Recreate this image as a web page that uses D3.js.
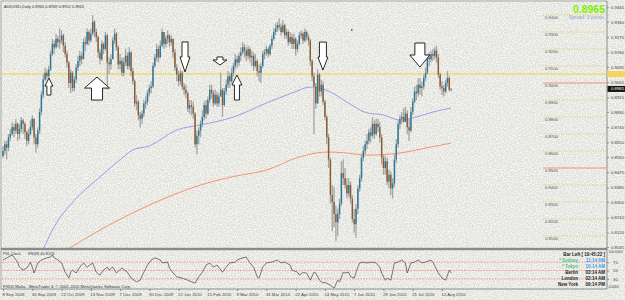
<!DOCTYPE html>
<html lang="en">
<head>
<meta charset="UTF-8"/>
<title>AUDUSD,Daily</title>
<script src="https://d3js.org/d3.v7.min.js"></script>
<style>
  body { margin: 0; background: #f3f3ef; }
  svg { display: block; font-family: "Liberation Sans", Arial, sans-serif; }
  .axis path { display: none; }
  .axis line { stroke: #777; stroke-width: 0.8; }
  .axis text { font-size: 4.3px; fill: #444; font-family: "Liberation Sans", Arial, sans-serif; }
</style>
</head>
<body></body>
<script>
// ---- data (prices in pips: 8965 = 0.8965) ----
const openPips = [8570,8600,8640,8620,8680,8700,8740,8720,8760,8700,8730,8780,8760,8710,8660,8700,8740,8790,8680,8640,
8720,8830,8930,9020,9060,9040,9080,9170,9230,9210,9260,9240,9250,9280,9220,9170,9120,9000,9060,8970,
9020,9090,9130,9160,9140,9240,9230,9300,9250,9290,9360,9300,9270,9180,9140,9230,9200,9280,9120,9110,
9140,9250,9290,9210,9110,9130,9060,9120,9160,9100,9180,9070,9010,8880,8890,8810,8790,8820,8880,8890,
8940,8970,8980,9100,9150,9200,9150,9220,9300,9230,9260,9280,9240,9260,9180,9090,9050,9010,9060,8980,
8960,8940,8850,8870,8860,8820,8640,8690,8720,8760,8800,8870,8820,8900,8960,8940,8880,8930,8880,8920,
8960,8870,8950,8990,9040,9010,9060,9100,9140,9120,9160,9180,9210,9190,9160,9200,9150,9160,9100,9130,
9070,9060,9100,9170,9180,9200,9170,9220,9260,9300,9320,9340,9330,9300,9340,9280,9300,9240,9270,9230,
9260,9200,9230,9280,9290,9250,9300,9270,9250,9130,9040,8980,8880,9050,8950,8990,8890,8800,8680,8550,
8340,8300,8230,8180,8230,8290,8470,8440,8400,8350,8400,8320,8200,8170,8260,8380,8440,8560,8600,8640,
8660,8710,8690,8760,8700,8760,8740,8680,8560,8500,8540,8420,8460,8380,8410,8550,8640,8760,8790,8800,
8770,8820,8740,8720,8830,8890,8950,8940,8990,8970,8980,9030,9060,9150,9140,9170,9160,9190,9150,9050,
8980,8970,8950,9000,9030,8960];
const highPips = [8630,8660,8660,8700,8730,8770,8760,8790,8770,8760,8800,8790,8770,8720,8730,8780,8810,8790,8700,8740,
8850,8950,9050,9090,9080,9100,9190,9260,9250,9290,9280,9320,9310,9290,9240,9190,9130,9080,9070,9040,
9110,9160,9190,9180,9260,9270,9320,9310,9320,9400,9370,9320,9280,9200,9250,9240,9300,9290,9150,9170,
9270,9320,9300,9220,9170,9150,9150,9200,9180,9210,9190,9090,9020,8930,8900,8830,8840,8900,8920,8960,
8990,9010,9120,9170,9230,9220,9250,9320,9300,9280,9310,9290,9280,9260,9200,9110,9070,9080,9070,9000,
8990,8950,8900,8900,8890,8830,8720,8740,8780,8840,8890,8900,8920,8990,8990,8960,8960,8950,8940,9060,
8970,8970,9020,9070,9060,9090,9120,9170,9160,9180,9210,9240,9230,9210,9220,9210,9190,9180,9170,9140,
9110,9120,9190,9200,9220,9210,9230,9280,9320,9350,9360,9380,9350,9370,9350,9320,9310,9300,9290,9290,
9270,9250,9300,9310,9300,9320,9310,9290,9260,9140,9060,9000,9080,9060,9020,9010,8900,8810,8700,8560,
8400,8390,8280,8260,8320,8540,8550,8500,8440,8440,8420,8340,8260,8290,8400,8460,8580,8630,8660,8700,
8730,8740,8800,8780,8790,8790,8770,8700,8580,8570,8560,8490,8480,8440,8580,8670,8780,8810,8830,8850,
8860,8840,8790,8860,8910,8980,8990,9030,9030,9010,9050,9090,9170,9180,9190,9200,9210,9220,9170,9060,
9010,8990,9020,9070,9040,8969];
const lowPips = [8560,8580,8550,8600,8660,8690,8680,8700,8660,8670,8710,8700,8670,8630,8640,8690,8720,8640,8590,8620,
8700,8810,8910,9010,9020,9030,9070,9160,9170,9200,9210,9200,9230,9180,9150,9090,8970,8940,8950,8950,
9000,9070,9100,9110,9140,9190,9220,9220,9240,9280,9270,9240,9150,9110,9130,9170,9190,8960,9050,9080,
9140,9230,9190,9080,9080,9040,9040,9100,9080,9080,9040,8990,8860,8840,8780,8740,8760,8800,8850,8870,
8920,8940,8970,9090,9130,9120,9150,9210,9200,9210,9230,9210,9220,9150,9070,9010,8980,8990,8960,8930,
8910,8830,8820,8810,8790,8620,8580,8640,8680,8740,8780,8790,8810,8880,8910,8860,8870,8860,8860,8920,
8800,8860,8930,8970,8970,9000,9040,9080,9090,9100,9130,9170,9150,9130,9140,9120,9100,9070,9090,9040,
9010,9000,9090,9140,9160,9150,9160,9200,9250,9280,9300,9310,9280,9290,9260,9260,9220,9230,9200,9200,
9160,9180,9220,9260,9230,9240,9250,9220,9100,9010,8700,8850,8880,8920,8920,8870,8780,8640,8500,8290,
8130,8150,8070,8100,8200,8280,8400,8380,8320,8330,8290,8180,8120,8090,8230,8360,8420,8540,8580,8610,
8640,8650,8680,8670,8690,8710,8650,8520,8460,8460,8400,8380,8340,8320,8390,8530,8620,8730,8760,8770,
8790,8700,8660,8710,8810,8880,8900,8920,8930,8920,8960,9010,9050,9100,9120,9130,9140,9120,9030,8960,
8930,8920,8940,8980,8950,8952];
const closePips = [8600,8640,8620,8680,8700,8740,8720,8760,8700,8730,8780,8760,8710,8660,8700,8740,8790,8680,8640,8720,
8830,8930,9020,9060,9040,9080,9170,9230,9210,9260,9240,9250,9280,9220,9170,9120,9000,9060,8970,9020,
9090,9130,9160,9140,9240,9230,9300,9250,9290,9360,9300,9270,9180,9140,9230,9200,9280,9120,9110,9140,
9250,9290,9210,9110,9130,9060,9120,9160,9100,9180,9070,9010,8880,8890,8810,8790,8820,8880,8890,8940,
8970,8980,9100,9150,9200,9150,9220,9300,9230,9260,9280,9240,9260,9180,9090,9050,9010,9060,8980,8960,
8940,8850,8870,8860,8820,8640,8690,8720,8760,8800,8870,8820,8900,8960,8940,8880,8930,8880,8920,8960,
8870,8950,8990,9040,9010,9060,9100,9140,9120,9160,9180,9210,9190,9160,9200,9150,9160,9100,9130,9070,
9060,9100,9170,9180,9200,9170,9220,9260,9300,9320,9340,9330,9300,9340,9280,9300,9240,9270,9230,9260,
9200,9230,9280,9290,9250,9300,9270,9250,9130,9040,8980,8880,9050,8950,8990,8890,8800,8680,8550,8340,
8300,8230,8180,8230,8290,8470,8440,8400,8350,8400,8320,8200,8170,8260,8380,8440,8560,8600,8640,8660,
8710,8690,8760,8700,8760,8740,8680,8560,8500,8540,8420,8460,8380,8410,8550,8640,8760,8790,8800,8770,
8820,8740,8720,8830,8890,8950,8940,8990,8970,8980,9030,9060,9150,9140,9170,9160,9190,9150,9050,8980,
8970,8950,9000,9030,8960,8965];

// moving averages, read at a few bars
const blueMaBars = [22, 27, 39, 51, 62, 71, 80, 95, 108, 126, 144, 158, 168, 173, 180, 188, 199, 208, 217, 226, 235, 245];
const blueMaPips = [8020, 8135, 8310, 8429, 8530, 8606, 8630, 8724, 8753, 8800, 8882, 8941, 8976, 8971, 8941, 8888, 8824, 8812, 8782, 8800, 8829, 8853];
const redMaBars = [35, 53, 80, 108, 126, 144, 162, 177, 186, 199, 217, 226, 245];
const redMaPips = [8020, 8135, 8282, 8400, 8450, 8488, 8565, 8594, 8590, 8576, 8588, 8606, 8647];

// RSI(8), read at bars
const rsiBars = [0,2,5,8,9,11,13,15,16,17,19,21,24,26,27,28,30,32,34,36,37,38,40,42,44,46,49,51,53,55,57,58,60,62,65,68,70,73,75,77,79,81,83,86,87,90,91,93,95,98,101,103,105,107,109,111,113,115,117,120,122,124,127,128,131,133,135,137,139,140,142,144,147,150,152,154,157,158,161,162,164,166,168,170,171,173,175,176,179,181,183,184,186,187,189,190,192,194,195,197,199,202,204,206,207,209,210,212,214,216,218,220,221,223,225,227,229,231,234,235,238,240,242,244,245];
const rsiValues = [75,80,87,70,58,51,56,70,58,44,68,75,80,82,87,80,75,68,46,32,46,51,44,58,68,58,68,46,39,51,58,51,58,44,56,46,32,23,27,46,63,75,80,75,68,70,56,44,35,32,27,23,20,35,46,63,68,58,63,46,58,68,70,75,80,82,68,58,35,32,58,68,70,75,68,70,63,51,46,39,45,44,27,46,44,27,20,22,15,8,27,23,46,44,46,35,32,58,68,70,68,70,68,58,44,27,32,27,68,70,75,68,44,68,70,75,68,70,75,70,44,32,27,51,44];
const rsiLevels = [70, 50, 30];

// axis labels
const priceTicks = [0.9445, 0.9360, 0.9270, 0.9180, 0.9095, 0.9005, 0.8915, 0.8830, 0.8740, 0.8650, 0.8565, 0.8475, 0.8385, 0.8300, 0.8210, 0.8120, 0.8035];
const dateTickBars = [0, 16, 32, 48, 64, 80, 96, 112, 128, 144, 160, 176, 192, 208, 224, 240];
const dateLabels = ["8 Sep 2009", "30 Sep 2009", "22 Oct 2009", "13 Nov 2009", "7 Dec 2009", "30 Dec 2009", "22 Jan 2010", "15 Feb 2010",
  "9 Mar 2010", "31 Mar 2010", "22 Apr 2010", "14 May 2010", "7 Jun 2010", "29 Jun 2010", "21 Jul 2010", "12 Aug 2010"];

// horizontal levels
const levelPrices = [0.94, 0.93, 0.92, 0.91, 0.90, 0.89, 0.88, 0.87, 0.86, 0.85, 0.84, 0.83, 0.82, 0.81];
const roundLevels = [0.90, 0.85];
const keyLevel = 0.9053;
const lastPrice = 0.8965;

// hand drawn arrows (bar, tip price, direction)
const arrowBars = [25.1, 51.4, 99.5, 118.6, 127.9, 174.9, 227.9];
const arrowPrices = [0.9029, 0.9035, 0.9065, 0.9106, 0.9047, 0.9076, 0.9094];
const arrowDirs = ["up", "up", "down", "down", "up", "down", "down"];
const dotBar = 190.7, dotPrice = 0.9312;

// ---- layout ----
const width = 625, height = 300;
const left = 2, right = 606, axisX = 607;
const mainTop = 2, mainBottom = 248, rsiTop = 250.5, rsiBottom = 289;

const svg = d3.select("body").append("svg")
  .attr("width", width).attr("height", height);

let defs = svg.append("defs");
defs.append("clipPath").attr("id", "clipMain").append("rect")
  .attr("x", left).attr("y", mainTop).attr("width", right - left).attr("height", mainBottom - mainTop);
defs.append("clipPath").attr("id", "clipRsi").append("rect")
  .attr("x", left).attr("y", rsiTop).attr("width", right - left).attr("height", rsiBottom - rsiTop);

// speckled paper background like the screenshot
let noise = defs.append("filter").attr("id", "speckle").attr("x", 0).attr("y", 0).attr("width", 1).attr("height", 1);
noise.append("feTurbulence").attr("type", "fractalNoise").attr("baseFrequency", 0.85).attr("numOctaves", 1).attr("seed", 3);
noise.append("feColorMatrix").attr("type", "matrix")
  .attr("values", "0 0 0 0 0.55  0 0 0 0 0.55  0 0 0 0 0.52  0 0 0 -9 5.2");
svg.append("rect").attr("width", width).attr("height", height).attr("fill", "#f4f4f0");
svg.append("rect").attr("width", width).attr("height", height).attr("filter", "url(#speckle)").attr("opacity", 0.35);

let x = d3.scaleLinear().domain([0, 240]).range([3, 442]);
let y = d3.scaleLinear().domain([0.85, 0.90]).range([168, 83]);
let yRsi = d3.scaleLinear().domain([0, 100]).range([291.5, 249.5]);
let p = v => v / 10000;

let main = svg.append("g").attr("clip-path", "url(#clipMain)");

// level lines on the right
levelPrices.forEach(lv => {
  let round = roundLevels.includes(lv);
  main.append("line")
    .attr("x1", 543).attr("x2", right)
    .attr("y1", y(lv)).attr("y2", y(lv))
    .attr("stroke", round ? "#f2876a" : "#e2bf45")
    .attr("stroke-width", round ? 0.9 : 0.7)
    .attr("stroke-dasharray", round ? null : "1.2,1.4");
  main.append("text")
    .attr("x", 545).attr("y", y(lv) + 4.3)
    .attr("font-size", 4.2).attr("fill", "#555")
    .text(lv.toFixed(4));
});

// key level
main.append("line")
  .attr("x1", left).attr("x2", right)
  .attr("y1", y(keyLevel)).attr("y2", y(keyLevel))
  .attr("stroke", "#f1d23a").attr("stroke-width", 1);

// moving averages
let maLine = d3.line().curve(d3.curveMonotoneX);
main.append("path")
  .attr("d", maLine(blueMaBars.map((b, i) => [x(b), y(p(blueMaPips[i]))])))
  .attr("fill", "none").attr("stroke", "#9d8fe6").attr("stroke-width", 0.9);
main.append("path")
  .attr("d", maLine(redMaBars.map((b, i) => [x(b), y(p(redMaPips[i]))])))
  .attr("fill", "none").attr("stroke", "#f48a62").attr("stroke-width", 0.9);

// candles
let bars = d3.range(closePips.length);
main.selectAll(".wick").data(bars).enter().append("line")
  .attr("class", "wick")
  .attr("x1", i => x(i)).attr("x2", i => x(i))
  .attr("y1", i => y(p(highPips[i]))).attr("y2", i => y(p(lowPips[i])))
  .attr("stroke", "#a4a4a4").attr("stroke-width", 1.3);
main.selectAll(".body").data(bars).enter().append("rect")
  .attr("class", "body")
  .attr("x", i => x(i) - 0.7).attr("width", 1.4)
  .attr("y", i => y(p(Math.max(openPips[i], closePips[i]))))
  .attr("height", i => Math.max(0.6, Math.abs(y(p(openPips[i])) - y(p(closePips[i])))))
  .attr("fill", i => closePips[i] >= openPips[i] ? "#2b7799" : "#8b5a33");

// arrows
const arrowShapes = [[8, 17, 8, 4], [25, 23, 11, 11], [10, 30, 15, 6], [14, 8, 5, 6], [10, 25, 10, 5], [10, 28, 13, 7], [20, 24, 12, 10]];
function arrowPath(s) {
  let [w, h, hh, sw] = s;
  return "M0,0L" + (w / 2) + "," + hh + "L" + (sw / 2) + "," + hh + "L" + (sw / 2) + "," + h +
    "L" + (-sw / 2) + "," + h + "L" + (-sw / 2) + "," + hh + "L" + (-w / 2) + "," + hh + "Z";
}
arrowBars.forEach((b, i) => {
  main.append("path")
    .attr("d", arrowPath(arrowShapes[i]))
    .attr("transform", "translate(" + x(b) + "," + y(arrowPrices[i]) + ")" + (arrowDirs[i] === "down" ? " scale(1,-1)" : ""))
    .attr("fill", "#fff").attr("stroke", "#111").attr("stroke-width", 0.9)
    .attr("stroke-linejoin", "miter");
});
main.append("circle").attr("cx", x(dotBar)).attr("cy", y(dotPrice)).attr("r", 0.8).attr("fill", "#222");

// header texts
svg.append("text").attr("x", 4).attr("y", 7.5).attr("font-size", 4).attr("fill", "#333")
  .text("AUDUSD,Daily  0.8960 0.8969 0.8952 0.8965");
svg.append("text").attr("x", 605).attr("y", 13).attr("text-anchor", "end")
  .attr("font-size", 10.5).attr("font-weight", "bold").attr("fill", "#7cf000")
  .text(lastPrice.toFixed(4));
svg.append("text").attr("x", 605).attr("y", 19).attr("text-anchor", "end")
  .attr("font-size", 4.8).attr("fill", "#87a9d2")
  .text("Spread: 3 points:");

// RSI panel
let rsi = svg.append("g").attr("clip-path", "url(#clipRsi)");
rsiLevels.forEach(lv => {
  rsi.append("line")
    .attr("x1", left).attr("x2", right)
    .attr("y1", yRsi(lv)).attr("y2", yRsi(lv))
    .attr("stroke", "#f0785a").attr("stroke-width", 0.7).attr("stroke-dasharray", "1.5,1.3");
});
rsi.append("path")
  .attr("d", d3.line()(rsiBars.map((b, i) => [x(b), yRsi(rsiValues[i])])))
  .attr("fill", "none").attr("stroke", "#444").attr("stroke-width", 0.7);

svg.append("text").attr("x", 3).attr("y", 255).attr("font-size", 3.9).attr("fill", "#333").text("P4L Clock");
svg.append("text").attr("x", 28).attr("y", 255).attr("font-size", 3.9).attr("fill", "#333").text("RSI(8) 40.8126");
svg.append("text").attr("x", 3).attr("y", 288).attr("font-size", 4.1).attr("fill", "#333")
  .text("FXDD Malta - MetaTrader 4, \u00a9 2001-2010 MetaQuotes Software Corp.");

// clock block
const clockNames = ["* Sydney", "* Tokyo", "Berlin", "London", "New York"];
const clockTimes = ["11:14 AM", "10:14 AM", "03:14 AM", "02:14 AM", "09:14 PM"];
svg.append("text").attr("x", 605).attr("y", 256).attr("text-anchor", "end")
  .attr("font-size", 4.5).attr("font-weight", "bold").attr("fill", "#222")
  .text("Bar Left [ 19:45:22 ]");
clockNames.forEach((n, i) => {
  let yy = 262.3 + i * 5.8;
  svg.append("text").attr("x", 578).attr("y", yy).attr("text-anchor", "end")
    .attr("font-size", 4.5).attr("font-weight", "bold").attr("fill", i < 2 ? "#4cc08a" : "#222").text(n);
  svg.append("text").attr("x", 605).attr("y", yy).attr("text-anchor", "end")
    .attr("font-size", 4.5).attr("font-weight", "bold").attr("fill", i < 2 ? "#3a9cf0" : "#222").text(clockTimes[i]);
});

// frame and separators
svg.append("rect").attr("x", 1).attr("y", 247.8).attr("width", axisX - 1).attr("height", 2.4).attr("fill", "#8a8a8a");
svg.append("line").attr("x1", 1).attr("x2", axisX).attr("y1", 1).attr("y2", 1).attr("stroke", "#999").attr("stroke-width", 0.8);
svg.append("line").attr("x1", 1).attr("x2", 1).attr("y1", 1).attr("y2", rsiBottom).attr("stroke", "#999").attr("stroke-width", 0.8);
svg.append("line").attr("x1", 1).attr("x2", axisX).attr("y1", rsiBottom).attr("y2", rsiBottom).attr("stroke", "#777").attr("stroke-width", 0.8);
svg.append("line").attr("x1", axisX).attr("x2", axisX).attr("y1", 1).attr("y2", rsiBottom).attr("stroke", "#777").attr("stroke-width", 0.8);

// price axis
svg.append("g").attr("class", "axis")
  .attr("transform", "translate(" + axisX + ",0)")
  .call(d3.axisRight(y).tickValues(priceTicks).tickSize(2).tickPadding(2).tickFormat(d3.format(".4f")));

// key level marker and last price box on the axis
svg.append("rect").attr("x", axisX + 0.5).attr("y", y(keyLevel) - 3).attr("width", width - axisX).attr("height", 6).attr("fill", "#f6d55e");
svg.append("rect").attr("x", axisX + 0.5).attr("y", y(lastPrice) - 3).attr("width", width - axisX).attr("height", 6).attr("fill", "#141414");
svg.append("text").attr("x", axisX + 4).attr("y", y(lastPrice) + 1.5).attr("font-size", 4.3).attr("fill", "#fff").text(lastPrice.toFixed(4));

// rsi axis
svg.append("g").attr("class", "axis")
  .attr("transform", "translate(" + axisX + ",0)")
  .call(d3.axisRight(yRsi).tickValues(rsiLevels).tickSize(2).tickPadding(4));
svg.append("text").attr("x", axisX + 1.5).attr("y", 253).attr("font-size", 3.4).attr("fill", "#444").text("100.0000");
svg.append("text").attr("x", axisX + 1.5).attr("y", 288).attr("font-size", 3.4).attr("fill", "#444").text("0.0000");

// date axis
let dateAxis = svg.append("g").attr("class", "axis")
  .attr("transform", "translate(0," + rsiBottom + ")")
  .call(d3.axisBottom(x).tickValues(dateTickBars).tickSize(2).tickPadding(1.6)
    .tickFormat((d, i) => dateLabels[i]));
dateAxis.selectAll("text").attr("text-anchor", "start").attr("dx", -1);
</script>
</html>
